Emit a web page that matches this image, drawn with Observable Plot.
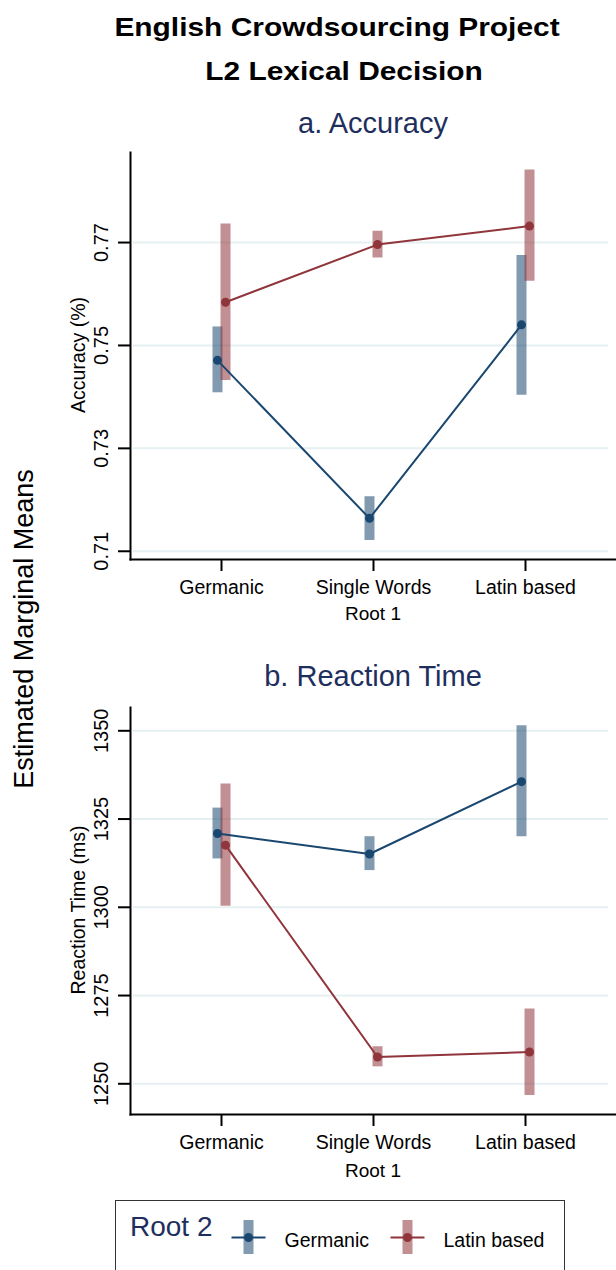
<!DOCTYPE html>
<html>
<head>
<meta charset="utf-8">
<script src="https://cdn.jsdelivr.net/npm/d3@7"></script>
<script src="https://cdn.jsdelivr.net/npm/@observablehq/plot@0.6"></script>
<style>
  html, body { margin: 0; padding: 0; background: #fff; }
  #root { position: relative; width: 616px; height: 1270px; overflow: hidden; font-family: "Liberation Sans", Arial, sans-serif; color: #000; }
  .abs { position: absolute; white-space: nowrap; }
  .title { font-weight: bold; font-size: 26px; transform: translateX(-50%) scaleX(1.15); transform-origin: center; }
  .sub { font-size: 29px; color: #1e2f5e; transform: translateX(-50%); }
  .rot { transform: translate(-50%, -50%) rotate(-90deg); }
  .xlab { font-size: 19px; transform: translateX(-50%); }
  svg { font-family: "Liberation Sans", Arial, sans-serif; }
</style>
</head>
<body>
<div id="root"></div>
<script>
// ---------- data ----------
const root1 = ["Germanic", "Single Words", "Latin based"];
const root2 = ["Germanic", "Latin based"];

const accGermanicMean = [0.7471, 0.7164, 0.7540];
const accGermanicLo   = [0.7408, 0.7121, 0.7403];
const accGermanicHi   = [0.7536, 0.7206, 0.7675];
const accLatinMean    = [0.7584, 0.7696, 0.7732];
const accLatinLo      = [0.7432, 0.7670, 0.7625];
const accLatinHi      = [0.7736, 0.7722, 0.7841];

const rtGermanicMean = [1320.9, 1315.1, 1335.6];
const rtGermanicLo   = [1313.7, 1310.4, 1320.0];
const rtGermanicHi   = [1328.1, 1320.0, 1351.4];
const rtLatinMean    = [1317.6, 1257.6, 1259.0];
const rtLatinLo      = [1300.3, 1254.8, 1246.7];
const rtLatinHi      = [1334.9, 1260.5, 1271.2];

const accTicks = [0.71, 0.73, 0.75, 0.77];
const rtTicks = [1250, 1275, 1300, 1325, 1350];
const accDomain = [0.7084, 0.7875];
const rtDomain = [1241.3, 1356.6];

// ---------- styles ----------
const colors = {"Germanic": "#1a476f", "Latin based": "#90353b"};
const dodge = {"Germanic": -4, "Latin based": 4};
const gridColor = "#e6eff1";

function rows(meanG, loG, hiG, meanL, loL, hiL) {
  const out = [];
  root1.forEach((r, i) => out.push({root1: r, root2: "Germanic", mean: meanG[i], lo: loG[i], hi: hiG[i]}));
  root1.forEach((r, i) => out.push({root1: r, root2: "Latin based", mean: meanL[i], lo: loL[i], hi: hiL[i]}));
  return out;
}

function panel(data, ticks, domain, fmt) {
  const marks = [
    Plot.ruleY(ticks, {stroke: gridColor, strokeWidth: 2, insetLeft: 3, insetRight: 8}),
  ];
  for (const s of root2) {
    marks.push(Plot.ruleX(data.filter(d => d.root2 === s), {x: "root1", y1: "lo", y2: "hi", stroke: colors[s], strokeWidth: 10, strokeOpacity: 0.55, dx: dodge[s]}));
  }
  for (const s of root2) {
    const sub = data.filter(d => d.root2 === s);
    marks.push(Plot.line(sub, {x: "root1", y: "mean", stroke: colors[s], strokeWidth: 2, dx: dodge[s]}));
    marks.push(Plot.dot(sub, {x: "root1", y: "mean", fill: colors[s], r: 4.5, dx: dodge[s]}));
  }
  marks.push(Plot.axisY({ticks, tickFormat: fmt, tickRotate: -90, tickSize: 12, tickPadding: 11, fontSize: 20, strokeWidth: 2, label: null}));
  marks.push(Plot.axisX({tickSize: 12, tickPadding: 9, fontSize: 19.5, strokeWidth: 2, label: null}));
  marks.push(Plot.frame({anchor: "left", strokeWidth: 2, stroke: "#000"}));
  marks.push(Plot.frame({anchor: "bottom", strokeWidth: 2, stroke: "#000"}));
  return Plot.plot({
    width: 616, height: 455,
    marginLeft: 130, marginRight: 0, marginTop: 7, marginBottom: 41,
    x: {type: "point", domain: root1, padding: 0.59},
    y: {domain, nice: false},
    style: {fontFamily: "Liberation Sans, Arial, sans-serif", color: "#000", background: "transparent"},
    marks
  });
}

const root = document.getElementById("root");
function place(el, left, top) { el.style.position = "absolute"; el.style.left = left + "px"; el.style.top = top + "px"; root.appendChild(el); return el; }
function label(text, cls, left, top, extra) {
  const d = document.createElement("div");
  d.className = "abs " + cls; d.textContent = text;
  d.style.left = left + "px"; d.style.top = top + "px";
  if (extra) Object.assign(d.style, extra);
  root.appendChild(d); return d;
}

// titles
label("English Crowdsourcing Project", "title", 337, 12);
label("L2 Lexical Decision", "title", 344, 56);
label("a. Accuracy", "sub", 373, 107);
label("b. Reaction Time", "sub", 373, 660);

// panels
const accData = rows(accGermanicMean, accGermanicLo, accGermanicHi, accLatinMean, accLatinLo, accLatinHi);
const rtData = rows(rtGermanicMean, rtGermanicLo, rtGermanicHi, rtLatinMean, rtLatinLo, rtLatinHi);
place(panel(accData, accTicks, accDomain, d3.format(".2f")), 0, 145);
place(panel(rtData, rtTicks, rtDomain, d3.format("d")), 0, 700);

// axis titles
label("Accuracy (%)", "rot", 78, 355, {fontSize: "19.5px"});
label("Reaction Time (ms)", "rot", 78, 910, {fontSize: "19.5px"});
label("Estimated Marginal Means", "rot", 24, 629, {fontSize: "27px"});
label("Root 1", "xlab", 373, 603);
label("Root 1", "xlab", 373, 1160);

// legend box
const box = document.createElement("div");
Object.assign(box.style, {position: "absolute", left: "115px", top: "1200px", width: "450px", height: "90px", border: "1.5px solid #333", boxSizing: "border-box"});
root.appendChild(box);
label("Root 2", "", 130, 1211, {fontSize: "28px", color: "#1e2f5e"});

const lineSymbol = {draw(ctx) { ctx.moveTo(-17, 0); ctx.lineTo(17, 0); }};
const legend = Plot.plot({
  width: 616, height: 70,
  marginTop: 20, marginBottom: 16, marginLeft: 0, marginRight: 0,
  x: {type: "point", domain: root2, range: [248, 407.5], padding: 0, axis: null},
  style: {fontFamily: "Liberation Sans, Arial, sans-serif", color: "#000", background: "transparent"},
  marks: [
    Plot.ruleX(root2, {x: d => d, stroke: d => colors[d], strokeWidth: 10, strokeOpacity: 0.55}),
    Plot.dot(root2, {x: d => d, frameAnchor: "middle", symbol: lineSymbol, r: 17, stroke: d => colors[d], strokeWidth: 2, fill: "none"}),
    Plot.dot(root2, {x: d => d, frameAnchor: "middle", r: 4.5, fill: d => colors[d]}),
    Plot.text(root2, {x: d => d, frameAnchor: "middle", text: d => d, dx: 36, dy: 3, textAnchor: "start", fontSize: 19.5, fill: "#000"})
  ]
});
place(legend, 0, 1200);
</script>
</body>
</html>
